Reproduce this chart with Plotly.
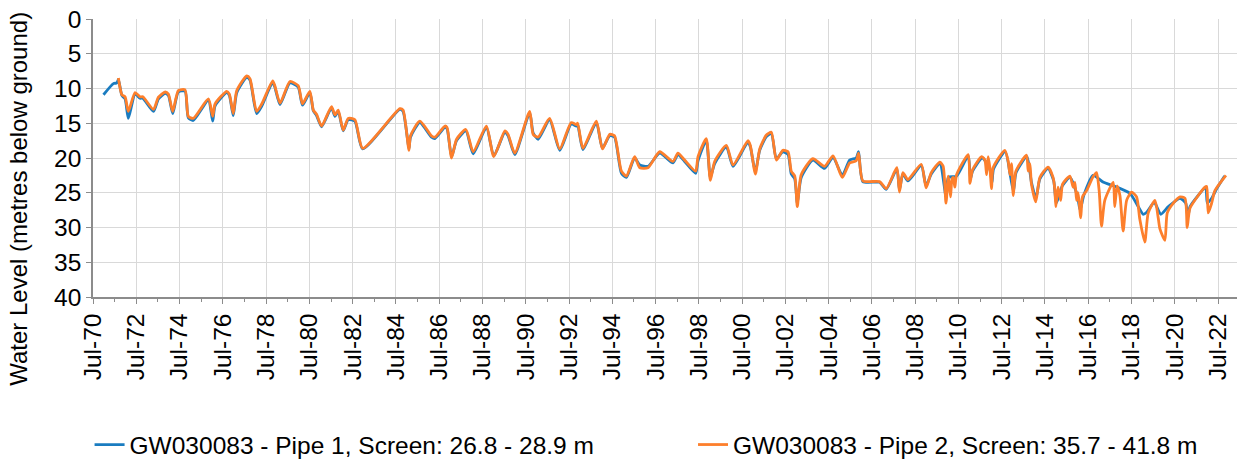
import pandas as pd
import plotly.graph_objects as go

# ---- data (decimal years, metres below ground) ----
pipe1_years = [
    1970.98, 1971.44, 1971.60, 1971.67, 1971.83, 1971.98, 1972.13, 1972.44, 1972.67, 1972.80,
    1973.29, 1973.52, 1973.83, 1973.98, 1974.18, 1974.44, 1974.75, 1974.90, 1975.13, 1975.83,
    1976.03, 1976.14, 1976.68, 1976.80, 1976.98, 1977.14, 1977.60, 1977.75, 1978.06, 1978.30,
    1978.80, 1978.90, 1979.14, 1979.60, 1979.98, 1980.18, 1980.52, 1980.68, 1980.83, 1981.06,
    1981.52, 1981.68, 1981.83, 1982.06, 1982.29, 1982.60, 1982.96, 1984.68, 1984.83, 1985.10,
    1985.17, 1985.60, 1986.14, 1986.30, 1986.76, 1986.86, 1987.07, 1987.30, 1987.73, 1988.07,
    1988.68, 1989.02, 1989.53, 1989.68, 1989.99, 1990.68, 1990.84, 1991.07, 1991.60, 1992.07,
    1992.60, 1992.84, 1992.90, 1993.14, 1993.76, 1994.04, 1994.38, 1994.60, 1994.92, 1995.15,
    1995.53, 1995.77, 1996.15, 1996.69, 1997.30, 1997.53, 1997.84, 1998.35, 1998.46, 1998.84,
    1999.03, 1999.23, 1999.77, 2000.08, 2000.77, 2000.88, 2001.11, 2001.31, 2001.62, 2001.85,
    2002.08, 2002.38, 2002.62, 2002.77, 2002.93, 2003.05, 2003.23, 2003.77, 2004.31, 2004.70,
    2005.13, 2005.47, 2005.77, 2005.88, 2006.08, 2006.85, 2007.16, 2007.65, 2007.77, 2007.93,
    2008.16, 2008.78, 2009.00, 2009.24, 2009.64, 2009.92, 2010.03, 2010.41, 2010.95, 2011.05,
    2011.15, 2011.60, 2011.95, 2012.05, 2012.12, 2012.66, 2012.90, 2013.04, 2013.16, 2013.66,
    2013.87, 2014.08, 2014.26, 2014.64, 2014.90, 2015.02, 2015.30, 2015.65, 2016.00, 2016.12,
    2016.30, 2016.72, 2017.20, 2017.65, 2018.43, 2019.04, 2019.20, 2019.55, 2019.85, 2020.20,
    2020.74, 2021.00, 2021.10, 2021.20, 2021.92, 2022.00, 2022.20, 2022.40, 2022.80,
]
pipe1_levels = [
    10.9, 9.3, 9.2, 8.7, 11.0, 11.5, 14.3, 10.8, 11.4, 11.4,
    13.3, 11.5, 10.7, 11.0, 13.6, 10.5, 10.4, 14.2, 14.6, 11.7,
    14.7, 12.5, 10.6, 11.0, 13.9, 10.6, 8.4, 8.8, 13.6, 12.5,
    9.1, 9.8, 12.3, 9.2, 9.8, 12.4, 10.6, 13.2, 13.9, 15.5,
    12.8, 14.0, 13.3, 16.1, 14.5, 14.7, 18.7, 13.0, 13.3, 18.6,
    17.0, 14.9, 17.0, 17.2, 15.6, 15.8, 19.8, 17.5, 16.1, 19.4,
    15.6, 19.7, 16.3, 16.8, 19.5, 13.5, 16.4, 17.3, 14.5, 18.9,
    15.1, 15.4, 15.2, 18.8, 14.9, 18.6, 16.8, 17.0, 22.2, 22.8,
    20.0, 21.0, 21.2, 19.3, 20.7, 19.5, 20.5, 22.2, 20.4, 17.5,
    22.8, 20.8, 18.4, 21.2, 17.7, 18.4, 22.0, 18.9, 16.9, 16.5,
    20.1, 19.1, 19.5, 22.3, 23.0, 26.5, 22.8, 20.3, 21.5, 19.9,
    22.5, 20.3, 20.0, 19.1, 23.4, 23.5, 24.5, 21.6, 24.6, 22.3,
    23.3, 21.1, 24.0, 22.3, 20.8, 25.5, 22.8, 22.6, 19.7, 23.0,
    21.9, 20.0, 21.6, 23.5, 21.6, 19.1, 22.6, 24.8, 22.1, 19.8,
    23.5, 25.8, 23.0, 21.5, 23.3, 26.5, 24.0, 22.8, 25.5, 27.5,
    25.3, 22.5, 23.5, 24.0, 25.1, 28.1, 27.8, 26.4, 28.1, 27.0,
    25.8, 26.5, 28.5, 27.0, 24.3, 26.5, 25.8, 24.6, 22.6,
]

pipe2_years = [
    1971.67, 1971.83, 1971.98, 1972.13, 1972.44, 1972.67, 1972.80, 1973.29, 1973.52, 1973.83,
    1973.98, 1974.18, 1974.44, 1974.75, 1974.90, 1975.13, 1975.83, 1976.03, 1976.14, 1976.68,
    1976.80, 1976.98, 1977.14, 1977.60, 1977.75, 1978.06, 1978.30, 1978.80, 1978.90, 1979.14,
    1979.60, 1979.98, 1980.18, 1980.52, 1980.68, 1980.83, 1981.06, 1981.52, 1981.68, 1981.83,
    1982.06, 1982.29, 1982.60, 1982.96, 1984.68, 1984.83, 1985.10, 1985.17, 1985.60, 1986.14,
    1986.30, 1986.76, 1986.86, 1987.07, 1987.30, 1987.73, 1988.07, 1988.68, 1989.02, 1989.53,
    1989.68, 1989.99, 1990.68, 1990.84, 1991.07, 1991.60, 1992.07, 1992.60, 1992.84, 1992.90,
    1993.14, 1993.76, 1994.04, 1994.38, 1994.60, 1994.92, 1995.15, 1995.53, 1995.77, 1996.15,
    1996.69, 1997.30, 1997.53, 1997.84, 1998.35, 1998.46, 1998.84, 1999.03, 1999.23, 1999.77,
    2000.08, 2000.77, 2000.88, 2001.11, 2001.31, 2001.62, 2001.85, 2002.08, 2002.38, 2002.62,
    2002.77, 2002.93, 2003.05, 2003.23, 2003.77, 2004.31, 2004.70, 2005.13, 2005.47, 2005.77,
    2005.88, 2006.08, 2006.85, 2007.16, 2007.65, 2007.77, 2007.93, 2008.16, 2008.78, 2009.00,
    2009.24, 2009.64, 2009.79, 2009.92, 2010.03, 2010.13, 2010.20, 2010.26, 2010.33, 2010.41,
    2010.95, 2011.03, 2011.15, 2011.57, 2011.72, 2011.80, 2011.87, 2011.95, 2012.03, 2012.10,
    2012.64, 2012.80, 2012.88, 2012.95, 2013.03, 2013.15, 2013.64, 2013.72, 2013.80, 2013.87,
    2014.07, 2014.26, 2014.64, 2014.87, 2014.95, 2015.00, 2015.10, 2015.22, 2015.31, 2015.65,
    2015.80, 2015.88, 2015.96, 2016.03, 2016.15, 2016.23, 2016.42, 2016.72, 2016.88, 2017.00,
    2017.11, 2017.26, 2017.65, 2017.72, 2017.83, 2017.96, 2018.11, 2018.27, 2018.50, 2018.73,
    2018.88, 2019.11, 2019.27, 2019.58, 2019.73, 2019.81, 2020.04, 2020.15, 2020.43, 2020.74,
    2020.97, 2021.07, 2021.20, 2021.89, 2021.97, 2022.04, 2022.20, 2022.35, 2022.86,
]
pipe2_levels = [
    8.5, 10.9, 11.2, 13.3, 10.6, 11.2, 11.2, 13.0, 11.25, 10.5,
    10.8, 13.3, 10.3, 10.2, 14.0, 14.3, 11.5, 14.0, 12.2, 10.4,
    10.8, 13.6, 10.3, 8.2, 8.6, 13.3, 12.2, 8.9, 9.6, 12.1,
    9.0, 9.6, 12.2, 10.4, 13.1, 13.7, 15.4, 12.6, 13.8, 13.1,
    16.0, 14.3, 14.5, 18.6, 12.9, 13.1, 18.9, 16.8, 14.7, 16.8,
    17.0, 15.4, 15.6, 20.0, 17.3, 15.9, 19.1, 15.4, 19.8, 16.1,
    16.6, 19.3, 13.3, 16.6, 17.0, 14.3, 18.7, 14.9, 15.2, 15.0,
    18.6, 14.7, 18.7, 16.6, 16.8, 21.9, 22.6, 19.8, 21.4, 21.4,
    19.1, 20.5, 19.3, 20.3, 21.9, 19.8, 17.2, 23.2, 20.5, 18.2,
    21.0, 17.5, 18.2, 22.3, 18.7, 16.7, 16.3, 20.3, 18.9, 19.1,
    21.9, 22.6, 27.0, 22.4, 20.1, 21.2, 19.7, 22.8, 20.7, 20.4,
    19.3, 23.3, 23.4, 24.4, 21.4, 24.9, 22.1, 23.1, 20.9, 24.3,
    22.1, 20.6, 21.2, 26.5, 22.6, 25.6, 23.0, 22.8, 24.2, 22.4,
    19.5, 23.65, 21.7, 19.8, 20.3, 22.4, 19.8, 21.4, 24.4, 21.4,
    18.9, 20.5, 22.4, 20.8, 25.4, 21.9, 19.6, 21.9, 20.8, 23.75,
    26.3, 22.8, 21.3, 22.8, 24.5, 27.0, 24.2, 26.1, 23.75, 22.6,
    24.2, 23.5, 26.1, 25.0, 28.6, 25.6, 24.7, 22.7, 22.1, 24.7,
    29.8, 26.1, 23.5, 27.0, 24.0, 25.4, 30.5, 26.1, 24.9, 25.6,
    28.8, 32.1, 27.9, 26.1, 28.6, 30.2, 31.85, 27.9, 26.5, 25.6,
    25.8, 30.0, 27.2, 24.2, 24.1, 27.9, 26.5, 24.7, 22.5,
]

series_names = [
    "GW030083 - Pipe 1, Screen: 26.8 - 28.9 m",
    "GW030083 - Pipe 2, Screen: 35.7 - 41.8 m",
]
y_title = "Water Level (metres below ground)"
y_ticks = [0, 5, 10, 15, 20, 25, 30, 35, 40]


def to_dates(years):
    out = []
    for y in years:
        yr = int(y)
        start = pd.Timestamp(year=yr, month=1, day=1)
        out.append(start + pd.Timedelta(days=(y - yr) * 365.25))
    return out


FONT = "Liberation Sans, Arial, sans-serif"
FS = 24.5
GRID = "#d9d9d9"
AXIS = "#8c8c8c"

fig = go.Figure()
fig.add_trace(go.Scatter(
    x=to_dates(pipe1_years), y=pipe1_levels, mode="lines", name=series_names[0],
    line=dict(color="#1a7cc0", width=2.8, shape="spline", smoothing=0.6),
    legend="legend",
))
fig.add_trace(go.Scatter(
    x=to_dates(pipe2_years), y=pipe2_levels, mode="lines", name=series_names[1],
    line=dict(color="#fd7f2c", width=2.8, shape="spline", smoothing=0.6),
    legend="legend2",
))

legend_common = dict(
    orientation="h", y=-0.531, yanchor="middle", xanchor="left",
    font=dict(size=FS, family=FONT, color="black"), bgcolor="rgba(0,0,0,0)",
)

fig.update_layout(
    width=1240, height=470,
    margin=dict(l=93, r=3, t=19, b=163),
    paper_bgcolor="white", plot_bgcolor="white",
    font=dict(family=FONT, size=FS, color="black"),
    showlegend=True,
    legend=dict(x=-0.003, **legend_common),
    legend2=dict(x=0.5245, **legend_common),
    annotations=[dict(
        text=y_title, textangle=-90, xref="paper", yref="paper",
        x=-0.065, y=0.352, xanchor="center", yanchor="middle",
        showarrow=False, font=dict(size=24, color="black"),
    )],
)

fig.update_xaxes(
    type="date", automargin=False, ticklabeloverflow="allow",
    range=["1970-07-01", "2023-05-17"],
    tick0="1970-07-01", dtick="M24", tickformat="%b-%y",
    tickangle=-90,
    ticks="outside", ticklen=5, tickcolor=AXIS, tickwidth=1,
    minor=dict(dtick="M12", tick0="1970-07-01", ticks="outside", ticklen=3,
               tickcolor=AXIS, showgrid=False),
    showgrid=True, gridcolor=GRID, gridwidth=1,
    showline=True, linecolor=AXIS, linewidth=1.5,
    tickfont=dict(size=FS),
    zeroline=False,
)
fig.update_yaxes(
    automargin=False, ticklabeloverflow="allow",
    range=[40, 0], tickvals=y_ticks,
    ticks="outside", ticklen=5, tickcolor=AXIS, tickwidth=1,
    showgrid=True, gridcolor=GRID, gridwidth=1,
    showline=True, linecolor=AXIS, linewidth=1.5,
    tickfont=dict(size=FS), zeroline=False,
)

# remove the default 8px page margin so the figure fills the window exactly
fig.write_html("out.html", config={"displayModeBar": False},
               post_script="document.body.style.margin='0';")
